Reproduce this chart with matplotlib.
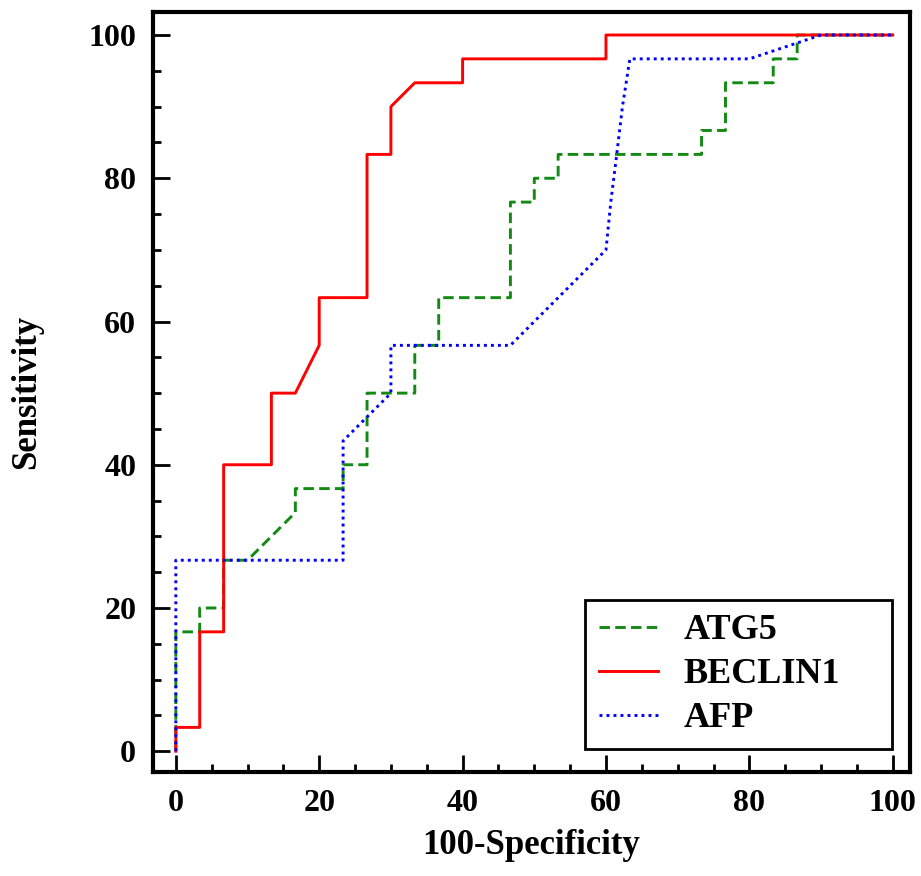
import numpy as np
import matplotlib
matplotlib.use("Agg")
import matplotlib.pyplot as plt

# === DATOS ===
atg5_x = [0, 0, 3.33, 3.33, 6.67, 6.67, 10, 16.67, 16.67, 23.33, 23.33, 26.67, 26.67,
          33.33, 33.33, 36.67, 36.67, 46.67, 46.67, 50, 50, 53.33, 53.33, 73.33, 73.33,
          76.67, 76.67, 83.33, 83.33, 86.67, 86.67, 100]
atg5_y = [0, 16.67, 16.67, 20, 20, 26.67, 26.67, 33.33, 36.67, 36.67, 40, 40, 50,
          50, 56.67, 56.67, 63.33, 63.33, 76.67, 76.67, 80, 80, 83.33, 83.33, 86.67,
          86.67, 93.33, 93.33, 96.67, 96.67, 100, 100]

beclin1_x = [0, 0, 3.33, 3.33, 6.67, 6.67, 13.33, 13.33, 16.67, 20, 20, 26.67, 26.67,
             30, 30, 33.33, 40, 40, 60, 60, 100]
beclin1_y = [0, 3.33, 3.33, 16.67, 16.67, 40, 40, 50, 50, 56.67, 63.33, 63.33, 83.33,
             83.33, 90, 93.33, 93.33, 96.67, 96.67, 100, 100]

afp_x = [0, 0, 23.33, 23.33, 30, 30, 46.67, 60, 60.67, 61.5, 62.3, 63.33, 80, 90, 100]
afp_y = [0, 26.67, 26.67, 43.33, 50, 56.67, 56.67, 70, 76.67, 83.33, 90, 96.67, 96.67, 100, 100]

nombres = ["ATG5", "BECLIN1", "AFP"]
colores = ["#138a13", "#ff0000", "#0000ff"]

plt.rcParams["font.family"] = ["Liberation Serif", "DejaVu Serif"]
plt.rcParams["font.weight"] = "bold"

fig = plt.figure(figsize=(9.21, 8.76), dpi=100)
ax = fig.add_axes([0.166, 0.1187, 0.822, 0.8675])

ax.plot(atg5_x, atg5_y, color=colores[0], linewidth=2.1, linestyle=(0, (3.6, 1.8)), label=nombres[0])
ax.plot(beclin1_x, beclin1_y, color=colores[1], linewidth=2.1, label=nombres[1])
ax.plot(afp_x, afp_y, color=colores[2], linewidth=2.1, linestyle=(0, (1, 1.4)), label=nombres[2])

ax.set_xlim(-3.2, 102.4)
ax.set_ylim(-2.9, 103.2)
ax.set_xticks(np.arange(0, 101, 20))
ax.set_yticks(np.arange(0, 101, 20))
ax.set_xticks(np.arange(0, 101, 5), minor=True)
ax.set_yticks(np.arange(0, 101, 5), minor=True)

for s in ax.spines.values():
    s.set_linewidth(3)
ax.tick_params(which="major", direction="in", length=12.5, width=2, labelsize=23, pad=12)
ax.tick_params(which="minor", direction="in", length=5.5, width=2)
ax.tick_params(top=False, right=False, which="both")
for lab in ax.get_xticklabels() + ax.get_yticklabels():
    lab.set_fontweight("bold")

ax.set_xlabel("100-Specificity", fontsize=25, fontweight="bold")
ax.set_ylabel("Sensitivity", fontsize=25, fontweight="bold")
ax.xaxis.set_label_coords(0.5, -0.075)
ax.yaxis.set_label_coords(-0.145, 0.5)

leg = ax.legend(loc="lower left", bbox_to_anchor=(0.571, 0.030, 0.405, 0.192), mode="expand",
                fontsize=26, frameon=True, fancybox=False, edgecolor="black",
                handlelength=1.65, handletextpad=0.7, borderpad=0.38, labelspacing=0.3,
                borderaxespad=0)
leg.get_frame().set_linewidth(2)
leg.get_frame().set_alpha(1)

fig.savefig("out.png", dpi=100)
